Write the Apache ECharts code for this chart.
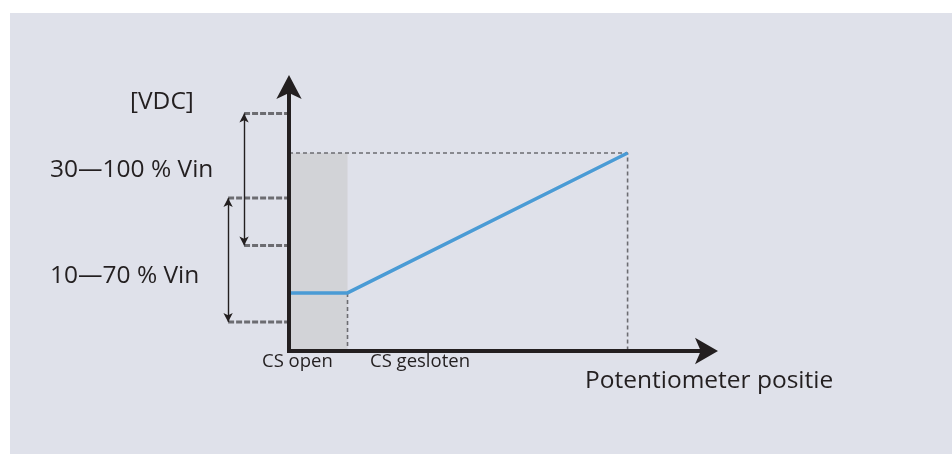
<!DOCTYPE html>
<html>
<head>
<meta charset="utf-8">
<script src="https://cdn.jsdelivr.net/npm/echarts@6/dist/echarts.min.js"></script>
<style>
html,body{margin:0;padding:0;background:#ffffff;}
#chart{width:952px;height:454px;}
</style>
</head>
<body>
<div id="chart"></div>
<script>
// ---- data (schematic units: x = potentiometer position 0..100, y = voltage 0..100) ----
const outputLine = [[0, 22], [14, 22], [81, 75]];          // blue characteristic
const csOpenBand = [0, 14, 75];                             // x from, x to, top
const guideTop = [[0, 75], [81, 75], [81, 0]];              // dashed guides
const guideKnee = [[14, 22], [14, 0]];
const range30to100 = { x: -10.7, from: 90, to: 40 };       // 30—100 % Vin
const range10to70 = { x: -14.5, from: 58, to: 11 };        // 10—70 % Vin
const labels = {
  unit: '[VDC]',
  r1: '30\u2014100 % Vin',
  r2: '10\u201470 % Vin',
  open: 'CS open',
  closed: 'CS gesloten',
  xName: 'Potentiometer positie'
};

const chart = echarts.init(document.getElementById('chart'), null, { renderer: 'canvas' });
const axisColor = '#231f20';
const dashColor = '#6c6c71';
const font = '"Open Sans", "Noto Sans", sans-serif';
const bigFont = '24.5px ' + font;
const smallFont = '18.5px ' + font;

function markerSeries(x, y) {
  return {
    type: 'line', xAxisIndex: 1, yAxisIndex: 1, symbol: 'none', silent: true,
    data: [[x, y], [0, y]],
    lineStyle: { color: dashColor, width: 3, type: [6, 2] },
    z: 3
  };
}

const option = {
  backgroundColor: '#ffffff',
  animation: false,
  graphic: [
    { type: 'rect', left: 10, top: 13, shape: { width: 942, height: 441 }, style: { fill: '#dfe1ea' }, z: -10, silent: true },
    { type: 'text', x: 130, y: 102, style: { text: labels.unit, font: bigFont, fill: axisColor, verticalAlign: 'middle' } },
    { type: 'text', x: 50, y: 170, style: { text: labels.r1, font: bigFont, fill: axisColor, verticalAlign: 'middle' } },
    { type: 'text', x: 50, y: 276, style: { text: labels.r2, font: bigFont, fill: axisColor, verticalAlign: 'middle' } },
    { type: 'text', x: 262, y: 362, style: { text: labels.open, font: smallFont, fill: axisColor, verticalAlign: 'middle' } },
    { type: 'text', x: 370, y: 362, style: { text: labels.closed, font: smallFont, fill: axisColor, verticalAlign: 'middle' } },
    { type: 'text', x: 585, y: 381, style: { text: labels.xName, font: bigFont, fill: axisColor, verticalAlign: 'middle' } }
  ],
  grid: [
    { left: 289, right: 245, top: 87, bottom: 103 },
    { left: 205, width: 84, top: 87, bottom: 103 }
  ],
  xAxis: [
    {
      gridIndex: 0, type: 'value', min: 0, max: 100, z: 10,
      axisLine: { show: true, symbol: ['none', 'arrow'], symbolSize: [20, 23], symbolOffset: [0, 11], lineStyle: { color: axisColor, width: 4, cap: 'square' } },
      axisTick: { show: false }, axisLabel: { show: false }, splitLine: { show: false }
    },
    {
      gridIndex: 1, type: 'value', min: -20, max: 0, show: false
    }
  ],
  yAxis: [
    {
      gridIndex: 0, type: 'value', min: 0, max: 100, z: 10,
      axisLine: { show: true, symbol: ['none', 'arrow'], symbolSize: [19, 24], symbolOffset: [0, 12], lineStyle: { color: axisColor, width: 4, cap: 'square' } },
      axisTick: { show: false }, axisLabel: { show: false }, splitLine: { show: false }
    },
    {
      gridIndex: 1, type: 'value', min: 0, max: 100, show: false
    }
  ],
  series: [
    {
      type: 'line', xAxisIndex: 0, yAxisIndex: 0, symbol: 'none', silent: true,
      data: guideTop,
      lineStyle: { color: dashColor, width: 1.6, type: [4, 3] },
      z: 3,
      markArea: {
        silent: true,
        itemStyle: { color: '#d2d3d7' },
        data: [[{ coord: [csOpenBand[0], 0] }, { coord: [csOpenBand[1], csOpenBand[2]] }]]
      }
    },
    {
      type: 'line', xAxisIndex: 0, yAxisIndex: 0, symbol: 'none', silent: true,
      data: guideKnee,
      lineStyle: { color: dashColor, width: 1.6, type: [4, 3] },
      z: 3
    },
    {
      type: 'line', xAxisIndex: 0, yAxisIndex: 0, symbol: 'none', silent: true,
      data: outputLine,
      lineStyle: { color: '#4a9bd5', width: 3.5 },
      z: 5
    },
    markerSeries(range30to100.x, range30to100.from),
    markerSeries(range30to100.x, range30to100.to),
    markerSeries(range10to70.x, range10to70.from),
    Object.assign(markerSeries(range10to70.x, range10to70.to), {
      markLine: {
        silent: true,
        symbol: ['arrow', 'arrow'],
        symbolSize: [7, 9],
        label: { show: false },
        lineStyle: { color: axisColor, width: 1.4, type: 'solid' },
        data: [
          [{ coord: [range30to100.x, range30to100.from] }, { coord: [range30to100.x, range30to100.to] }],
          [{ coord: [range10to70.x, range10to70.from] }, { coord: [range10to70.x, range10to70.to] }]
        ]
      }
    })
  ]
};
chart.setOption(option);
</script>
</body>
</html>
